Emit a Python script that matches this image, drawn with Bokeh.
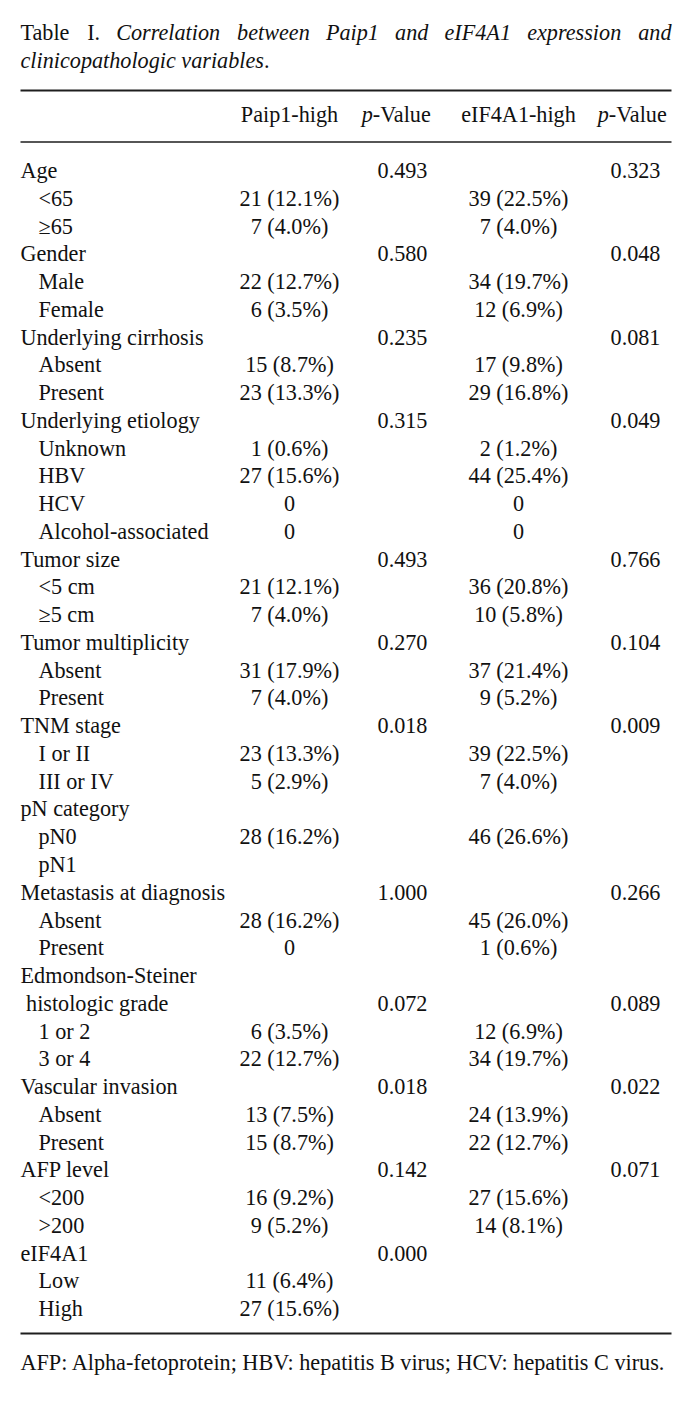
from bokeh.plotting import figure
from bokeh.models import Range1d, ColumnDataSource
from bokeh.core.properties import value
from bokeh.embed import file_html
from bokeh.resources import INLINE

# ---------------- data ----------------
row_labels = [
    "Age", "<65", "\u226565",
    "Gender", "Male", "Female",
    "Underlying cirrhosis", "Absent", "Present",
    "Underlying etiology", "Unknown", "HBV", "HCV", "Alcohol-associated",
    "Tumor size", "<5 cm", "\u22655 cm",
    "Tumor multiplicity", "Absent", "Present",
    "TNM stage", "I or II", "III or IV",
    "pN category", "pN0", "pN1",
    "Metastasis at diagnosis", "Absent", "Present",
    "Edmondson-Steiner", "\u00a0histologic grade", "1 or 2", "3 or 4",
    "Vascular invasion", "Absent", "Present",
    "AFP level", "<200", ">200",
    "eIF4A1", "Low", "High",
]
row_level = [
    0, 1, 1,
    0, 1, 1,
    0, 1, 1,
    0, 1, 1, 1, 1,
    0, 1, 1,
    0, 1, 1,
    0, 1, 1,
    0, 1, 1,
    0, 1, 1,
    0, 0, 1, 1,
    0, 1, 1,
    0, 1, 1,
    0, 1, 1,
]
paip1_high = [
    "", "21 (12.1%)", "7 (4.0%)",
    "", "22 (12.7%)", "6 (3.5%)",
    "", "15 (8.7%)", "23 (13.3%)",
    "", "1 (0.6%)", "27 (15.6%)", "0", "0",
    "", "21 (12.1%)", "7 (4.0%)",
    "", "31 (17.9%)", "7 (4.0%)",
    "", "23 (13.3%)", "5 (2.9%)",
    "", "28 (16.2%)", "",
    "", "28 (16.2%)", "0",
    "", "", "6 (3.5%)", "22 (12.7%)",
    "", "13 (7.5%)", "15 (8.7%)",
    "", "16 (9.2%)", "9 (5.2%)",
    "", "11 (6.4%)", "27 (15.6%)",
]
paip1_p = [
    "0.493", "", "",
    "0.580", "", "",
    "0.235", "", "",
    "0.315", "", "", "", "",
    "0.493", "", "",
    "0.270", "", "",
    "0.018", "", "",
    "", "", "",
    "1.000", "", "",
    "", "0.072", "", "",
    "0.018", "", "",
    "0.142", "", "",
    "0.000", "", "",
]
eif4a1_high = [
    "", "39 (22.5%)", "7 (4.0%)",
    "", "34 (19.7%)", "12 (6.9%)",
    "", "17 (9.8%)", "29 (16.8%)",
    "", "2 (1.2%)", "44 (25.4%)", "0", "0",
    "", "36 (20.8%)", "10 (5.8%)",
    "", "37 (21.4%)", "9 (5.2%)",
    "", "39 (22.5%)", "7 (4.0%)",
    "", "46 (26.6%)", "",
    "", "45 (26.0%)", "1 (0.6%)",
    "", "", "12 (6.9%)", "34 (19.7%)",
    "", "24 (13.9%)", "22 (12.7%)",
    "", "27 (15.6%)", "14 (8.1%)",
    "", "", "",
]
eif4a1_p = [
    "0.323", "", "",
    "0.048", "", "",
    "0.081", "", "",
    "0.049", "", "", "", "",
    "0.766", "", "",
    "0.104", "", "",
    "0.009", "", "",
    "", "", "",
    "0.266", "", "",
    "", "0.089", "", "",
    "0.022", "", "",
    "0.071", "", "",
    "", "", "",
]
col_headers = ["Paip1-high", "p-Value", "eIF4A1-high", "p-Value"]
title_words_1 = [("Table", "normal"), ("I.", "normal"), ("Correlation", "italic"),
                 ("between", "italic"), ("Paip1", "italic"), ("and", "italic"),
                 ("eIF4A1", "italic"), ("expression", "italic"), ("and", "italic")]
title_line_2 = [("clinicopathologic variables", "italic"), (".", "normal")]
footnote = "AFP: Alpha-fetoprotein; HBV: hepatitis B virus; HCV: hepatitis C virus."

# ---------------- layout ----------------
FONT = "Liberation Serif"
FS = 22.2
LEFT, RIGHT = 20.0, 671.0
INDENT = 18.0
ROW0, STEP = 170.0, 27.76
COL_X = [289.0, 402.0, 518.0, 635.0]
HEAD_X = [289.0, 397.0, 518.0, 633.0]
HEADER_Y = 114.0
TITLE_Y = [32.0, 59.5]
FOOT_Y = 1362.0
RULE_Y = [90.0, 141.5, 1333.0]
RULE_W = [2.0, 1.4, 2.0]
INK = "#111111"

# Times metrics (per 1000 em), roman and italic
ROMAN = dict(zip("abcdefghijklmnopqrstuvwxyz",
                 [444, 500, 444, 500, 444, 333, 500, 500, 278, 278, 500, 278, 778,
                  500, 500, 500, 500, 333, 389, 278, 500, 500, 722, 500, 500, 444]))
ROMAN.update(zip("ABCDEFGHIJKLMNOPQRSTUVWXYZ",
                 [722, 667, 667, 722, 611, 556, 722, 722, 333, 389, 722, 611, 889,
                  722, 722, 556, 722, 667, 556, 611, 722, 722, 944, 722, 722, 611]))
ITAL = dict(zip("abcdefghijklmnopqrstuvwxyz",
                [500, 500, 444, 500, 444, 278, 500, 500, 278, 278, 444, 278, 722,
                 500, 500, 500, 500, 389, 389, 278, 500, 444, 667, 444, 444, 389]))
ITAL.update(zip("ABCDEFGHIJKLMNOPQRSTUVWXYZ",
                [611, 611, 667, 722, 611, 611, 722, 722, 333, 444, 667, 556, 833,
                 667, 722, 611, 722, 611, 500, 556, 722, 611, 833, 611, 556, 556]))
for d in (ROMAN, ITAL):
    for ch in "0123456789":
        d[ch] = 500
    d.update({" ": 250, ".": 250, "-": 333, "(": 333, ")": 333, "%": 833, ":": 278, ";": 278})


def text_width(s, style, fs):
    table = ITAL if style == "italic" else ROMAN
    return sum(table.get(c, 500) for c in s) * fs / 1000.0


p = figure(width=680, height=1385, x_range=Range1d(0, 680), y_range=Range1d(1385, 0),
           output_backend="svg", toolbar_location=None, min_border=0)
p.axis.visible = False
p.grid.visible = False
p.outline_line_color = None
p.background_fill_color = "white"
p.border_fill_color = "white"

common = dict(text_font=value(FONT), text_color=INK, text_baseline="alphabetic")


def put(x, y, s, style="normal", align="left", fs=FS):
    p.text(x=[x], y=[y], text=[s], text_align=align, text_font_style=style,
           text_font_size=value(f"{fs}px"), **common)


# title, line 1 justified
nat = [text_width(w, st, FS) for w, st in title_words_1]
gap = (RIGHT - LEFT - sum(nat)) / (len(title_words_1) - 1)
x = LEFT
for (w, st), wd in zip(title_words_1, nat):
    put(x, TITLE_Y[0], w, st)
    x += wd + gap
x = LEFT
for w, st in title_line_2:
    put(x, TITLE_Y[1], w, st)
    x += text_width(w, st, FS)

# rules
for ry, rw in zip(RULE_Y, RULE_W):
    p.segment(x0=[LEFT], x1=[RIGHT], y0=[ry], y1=[ry], line_color="#1e1e1e", line_width=rw)

# column headers
for cx, h in zip(HEAD_X, col_headers):
    if h.startswith("p-"):
        w1 = text_width("p", "italic", FS)
        w2 = text_width(h[1:], "normal", FS)
        x0 = cx - (w1 + w2) / 2
        put(x0, HEADER_Y, "p", "italic")
        put(x0 + w1, HEADER_Y, h[1:], "normal")
    else:
        put(cx, HEADER_Y, h, "normal", "center")

# body
n = len(row_labels)
ys = [ROW0 + i * STEP for i in range(n)]
lab_src = ColumnDataSource(dict(x=[LEFT + INDENT * lv for lv in row_level], y=ys, t=row_labels))
p.text(x="x", y="y", text="t", source=lab_src, text_align="left",
       text_font_size=value(f"{FS}px"), **common)
for cx, col in zip(COL_X, [paip1_high, paip1_p, eif4a1_high, eif4a1_p]):
    src = ColumnDataSource(dict(x=[cx] * n, y=ys, t=col))
    p.text(x="x", y="y", text="t", source=src, text_align="center",
           text_font_size=value(f"{FS}px"), **common)

# footnote
put(LEFT, FOOT_Y, footnote, "normal", "left", FS)

open("out.html", "w").write(file_html(p, INLINE))
